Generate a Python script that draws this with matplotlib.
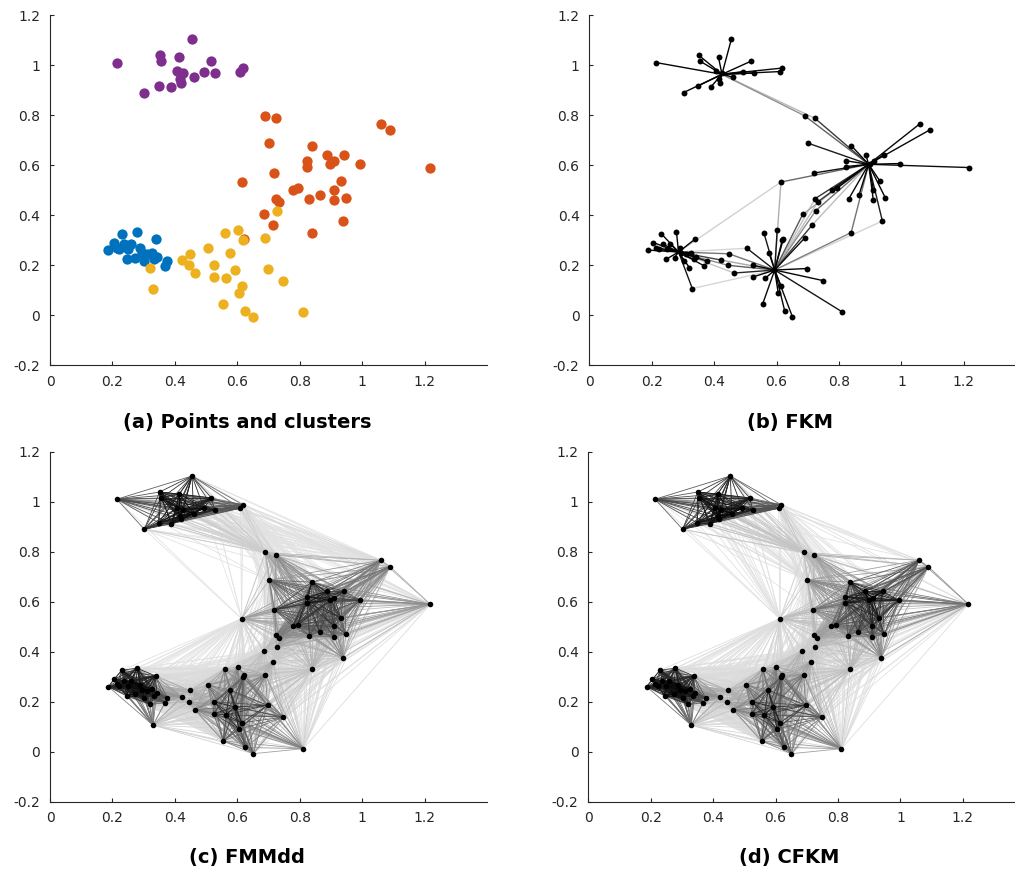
import numpy as np
import matplotlib
matplotlib.use('Agg')
import matplotlib.pyplot as plt
from matplotlib.collections import LineCollection

# points, one pair of arrays per cluster
blue_x = [0.187, 0.205, 0.214, 0.222, 0.230, 0.237, 0.246, 0.249, 0.260, 0.273, 0.279,
          0.289, 0.294, 0.302, 0.310, 0.326, 0.334, 0.342, 0.338, 0.369, 0.376]
blue_y = [0.260, 0.290, 0.270, 0.263, 0.326, 0.283, 0.223, 0.263, 0.283, 0.230, 0.334,
          0.267, 0.247, 0.216, 0.243, 0.250, 0.223, 0.234, 0.303, 0.196, 0.216]

orange_x = [0.690, 0.723, 1.060, 1.090, 0.702, 0.839, 0.886, 0.943, 0.823, 0.823, 0.898,
            0.911, 0.994, 1.218, 0.719, 0.614, 0.931, 0.777, 0.793, 0.864, 0.910, 0.724,
            0.733, 0.831, 0.910, 0.948, 0.684, 0.714, 0.939, 0.839, 0.622]
orange_y = [0.797, 0.787, 0.766, 0.740, 0.687, 0.678, 0.641, 0.641, 0.617, 0.594, 0.606,
            0.615, 0.606, 0.590, 0.568, 0.532, 0.536, 0.502, 0.507, 0.480, 0.502, 0.466,
            0.454, 0.464, 0.459, 0.470, 0.403, 0.360, 0.376, 0.330, 0.306]

yellow_x = [0.726, 0.559, 0.602, 0.618, 0.690, 0.505, 0.576, 0.526, 0.592, 0.697, 0.524,
            0.564, 0.748, 0.614, 0.605, 0.555, 0.626, 0.651, 0.811, 0.321, 0.330, 0.422,
            0.447, 0.444, 0.464]
yellow_y = [0.418, 0.330, 0.340, 0.299, 0.308, 0.267, 0.247, 0.199, 0.179, 0.186, 0.152,
            0.147, 0.138, 0.116, 0.090, 0.043, 0.017, -0.008, 0.012, 0.189, 0.106, 0.220,
            0.245, 0.199, 0.168]

purple_x = [0.214, 0.302, 0.348, 0.351, 0.356, 0.389, 0.414, 0.406, 0.426, 0.417, 0.418,
            0.455, 0.460, 0.493, 0.517, 0.527, 0.610, 0.618]
purple_y = [1.010, 0.890, 0.916, 1.039, 1.015, 0.912, 1.031, 0.975, 0.967, 0.943, 0.930,
            1.103, 0.952, 0.974, 1.015, 0.968, 0.974, 0.988]

# cluster centres seen in panel (b) (blue, orange, yellow, purple)
fkm_cx = [0.286, 0.895, 0.594, 0.425]
fkm_cy = [0.252, 0.603, 0.180, 0.963]

# medoids seen as star hubs in panel (c)
med_cx = [0.289, 0.823, 0.592, 0.426]
med_cy = [0.267, 0.594, 0.179, 0.967]

cluster_colors = ['#0072BD', '#D95319', '#EDB120', '#7E2F8E']
captions = ['(a) Points and clusters', '(b) FKM', '(c) FMMdd', '(d) CFKM']

x = np.array(blue_x + orange_x + yellow_x + purple_x)
y = np.array(blue_y + orange_y + yellow_y + purple_y)


def memberships(cx, cy, m):
    d = np.hypot(x[:, None] - np.array(cx)[None, :], y[:, None] - np.array(cy)[None, :])
    d = np.maximum(d, 1e-3)
    w = d ** (-2.0 / (m - 1))
    return w / w.sum(axis=1, keepdims=True)


def gray_lines(ax, segs, strength, cut, lw, gamma=1.0):
    segs = np.array(segs)
    strength = np.array(strength)
    keep = strength > cut
    segs, strength = segs[keep], strength[keep]
    order = np.argsort(strength)
    g = np.clip(0.92 * (1 - strength[order] ** gamma), 0, 1)
    cols = np.stack([g, g, g], axis=1)
    ax.add_collection(LineCollection(segs[order], colors=cols, linewidths=lw, zorder=1))


def pair_lines(ax, U):
    W = U @ U.T
    i, j = np.triu_indices(len(x), 1)
    segs = np.stack([np.stack([x[i], y[i]], 1), np.stack([x[j], y[j]], 1)], 1)
    gray_lines(ax, segs, W[i, j], cut=0.13, lw=0.6, gamma=1.8)


def style(ax):
    ax.set_xlim(0, 1.4)
    ax.set_ylim(-0.2, 1.2)
    ax.set_xticks([0, 0.2, 0.4, 0.6, 0.8, 1, 1.2])
    ax.set_xticklabels(['0', '0.2', '0.4', '0.6', '0.8', '1', '1.2'])
    ax.set_yticks([-0.2, 0, 0.2, 0.4, 0.6, 0.8, 1, 1.2])
    ax.set_yticklabels(['-0.2', '0', '0.2', '0.4', '0.6', '0.8', '1', '1.2'])
    for s in ['top', 'right']:
        ax.spines[s].set_visible(False)
    for s in ['left', 'bottom']:
        ax.spines[s].set_color('#262626')
        ax.spines[s].set_linewidth(0.8)
    ax.tick_params(direction='in', length=3, width=0.8, color='#262626',
                   labelcolor='#262626', labelsize=10, pad=7)


fig = plt.figure(figsize=(10.15, 8.77), dpi=100)
w, h = 0.4305, 0.399
ax_a = fig.add_axes([0.0493, 0.5838, w, h])
ax_b = fig.add_axes([0.5806, 0.5838, w, h])
ax_c = fig.add_axes([0.0493, 0.0859, w, h])
ax_d = fig.add_axes([0.5796, 0.0859, w, h])

# (a) coloured clusters
for cx_, cy_, col in zip([blue_x, orange_x, yellow_x, purple_x],
                         [blue_y, orange_y, yellow_y, purple_y], cluster_colors):
    ax_a.scatter(cx_, cy_, s=55, color=col, linewidths=0, zorder=2)

# (b) FKM: point-to-centre links
U_b = memberships(fkm_cx, fkm_cy, 1.5)
segs, strength = [], []
for k in range(len(fkm_cx)):
    for n in range(len(x)):
        segs.append([[x[n], y[n]], [fkm_cx[k], fkm_cy[k]]])
        strength.append(U_b[n, k])
gray_lines(ax_b, segs, strength, cut=0.08, lw=1.0)
ax_b.scatter(x, y, s=18, color='black', linewidths=0, zorder=3)

# (c) FMMdd: pairwise co-membership around medoids
U_c = memberships(med_cx, med_cy, 2.0)
pair_lines(ax_c, U_c)
ax_c.scatter(x, y, s=16, color='black', linewidths=0, zorder=3)

# (d) CFKM: pairwise co-membership around centres
U_d = memberships(fkm_cx, fkm_cy, 2.0)
pair_lines(ax_d, U_d)
ax_d.scatter(x, y, s=16, color='black', linewidths=0, zorder=3)

for ax in [ax_a, ax_b, ax_c, ax_d]:
    style(ax)

cap_pos = [(0.2433, 0.5177), (0.778, 0.5177), (0.2433, 0.0217), (0.778, 0.0217)]
for (cx_, cy_), txt in zip(cap_pos, captions):
    fig.text(cx_, cy_, txt, ha='center', va='center', fontsize=14, fontweight='bold')

fig.savefig('out.png', dpi=100)
